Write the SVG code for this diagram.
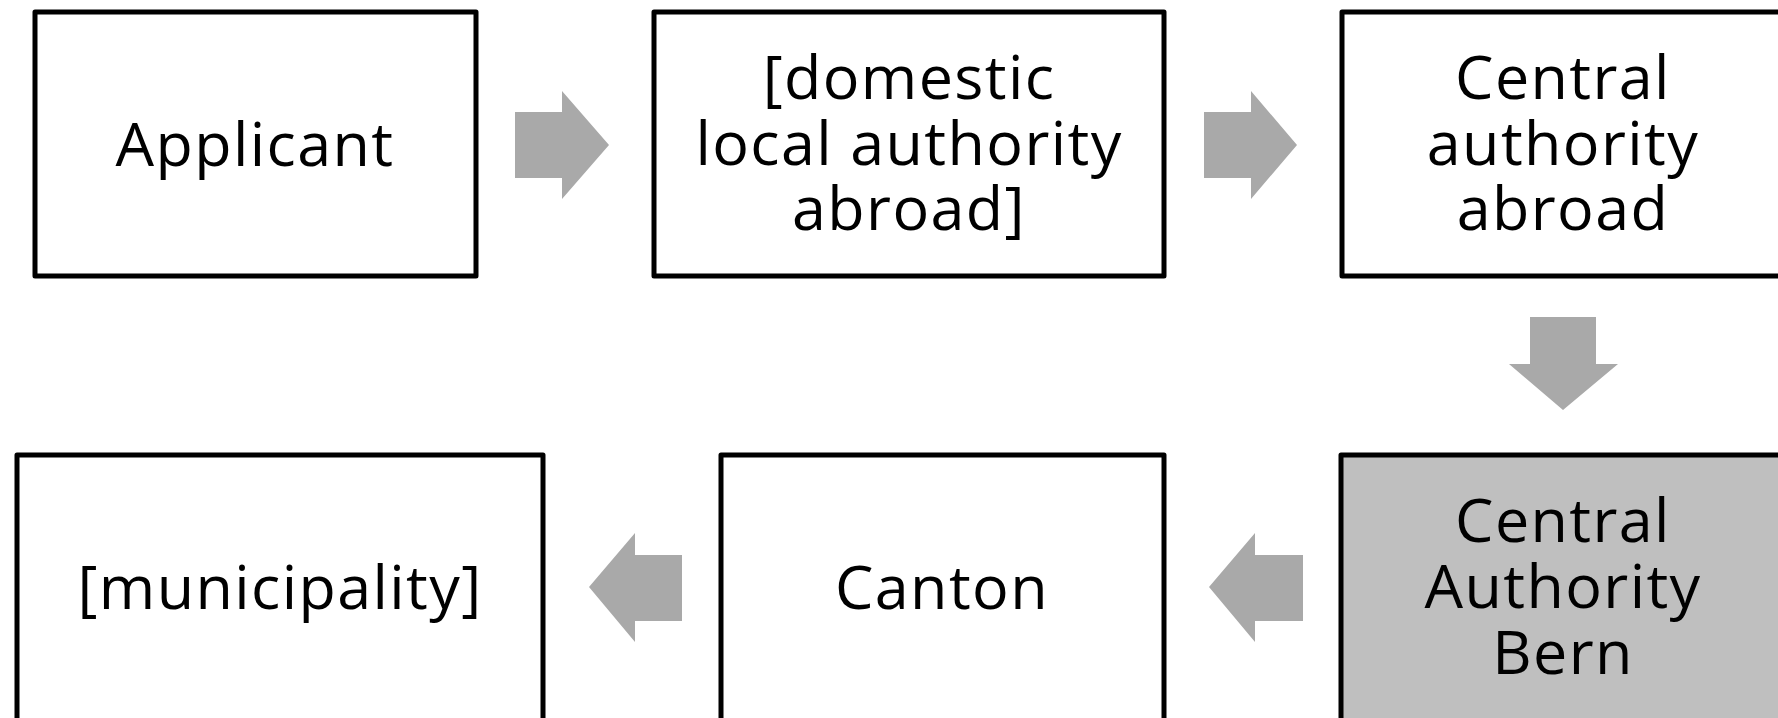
<svg xmlns="http://www.w3.org/2000/svg" width="1778" height="718" viewBox="0 0 1778 718">
<style>
.box{fill:#ffffff;stroke:#000000;stroke-width:5;stroke-linejoin:round}
.hl{fill:#bfbfbf}
.lbl{font-family:"Open Sans","Noto Sans",sans-serif;font-size:61px;fill:#000000;text-anchor:middle;letter-spacing:1.4px}
.arr{fill:#a9a9a9;stroke:none}
</style>
<rect width="1778" height="718" fill="#ffffff"/>
<g id="connectors">
<polygon class="arr" points="515,112 562,112 562,91 609,145 562,199 562,178 515,178"/>
<polygon class="arr" points="1204,112 1251,112 1251,91 1297,145 1251,199 1251,178 1204,178"/>
<polygon class="arr" points="1530,317 1596,317 1596,364 1618,364 1563,410 1509,364 1530,364"/>
<polygon class="arr" points="1303,555 1255,555 1255,533 1209,587 1255,642 1255,621 1303,621"/>
<polygon class="arr" points="682,555 635,555 635,533 589,587 635,642 635,621 682,621"/>
</g>
<g id="node-applicant">
<rect class="box" x="35" y="12" width="441" height="264"/>
<text class="lbl" x="255" y="166">Applicant</text>
</g>
<g id="node-domestic">
<rect class="box" x="654" y="12" width="510" height="264"/>
<text class="lbl" x="909" y="99">[domestic</text>
<text class="lbl" x="909" y="165">local authority</text>
<text class="lbl" x="909" y="230">abroad]</text>
</g>
<g id="node-central-abroad">
<rect class="box" x="1342" y="12" width="443" height="264"/>
<text class="lbl" x="1563" y="99">Central</text>
<text class="lbl" x="1563" y="165">authority</text>
<text class="lbl" x="1563" y="230">abroad</text>
</g>
<g id="node-bern">
<rect class="box hl" x="1341" y="455" width="444" height="270"/>
<text class="lbl" x="1563" y="542">Central</text>
<text class="lbl" x="1563" y="608">Authority</text>
<text class="lbl" x="1563" y="674">Bern</text>
</g>
<g id="node-canton">
<rect class="box" x="721" y="455" width="443" height="270"/>
<text class="lbl" x="942" y="609">Canton</text>
</g>
<g id="node-municipality">
<rect class="box" x="17" y="455" width="526" height="270"/>
<text class="lbl" x="280" y="609">[municipality]</text>
</g>
</svg>
